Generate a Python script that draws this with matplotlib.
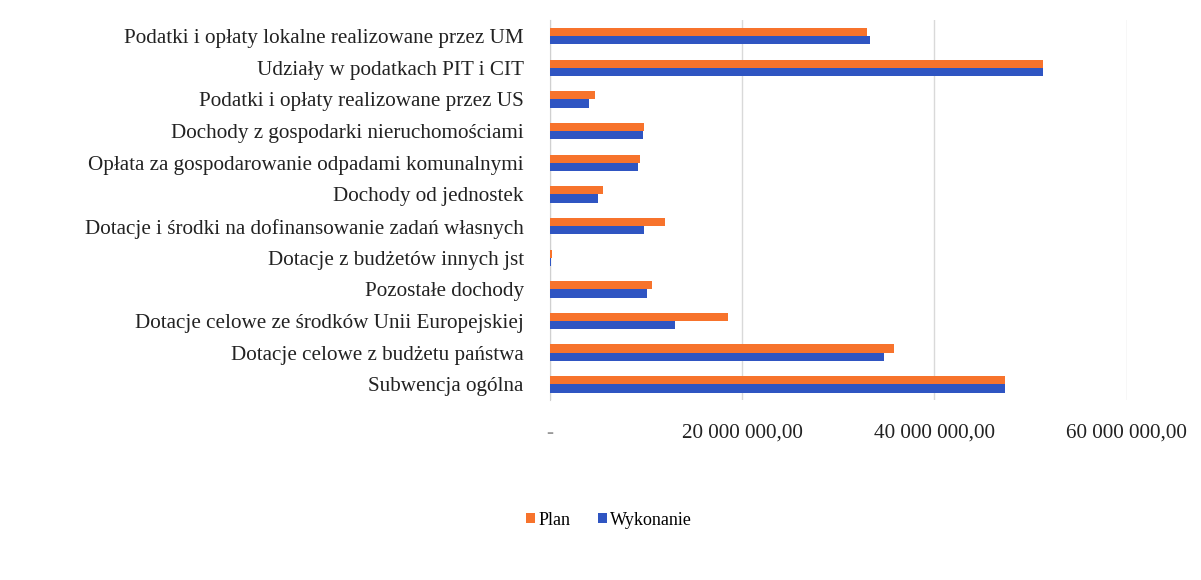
import matplotlib.pyplot as plt
import numpy as np

categories = [
    "Podatki i opłaty lokalne realizowane przez UM",
    "Udziały w podatkach PIT i CIT",
    "Podatki i opłaty realizowane przez US",
    "Dochody z gospodarki nieruchomościami",
    "Opłata za gospodarowanie odpadami komunalnymi",
    "Dochody od jednostek",
    "Dotacje i środki na dofinansowanie zadań własnych",
    "Dotacje z budżetów innych jst",
    "Pozostałe dochody",
    "Dotacje celowe ze środków Unii Europejskiej",
    "Dotacje celowe z budżetu państwa",
    "Subwencja ogólna",
]
plan = [33.0e6, 51.3e6, 4.7e6, 9.8e6, 9.35e6, 5.5e6, 12.0e6, 0.2e6, 10.6e6, 18.5e6, 35.8e6, 47.4e6]
wykonanie = [33.3e6, 51.3e6, 4.1e6, 9.7e6, 9.2e6, 4.95e6, 9.8e6, 0.15e6, 10.1e6, 13.05e6, 34.8e6, 47.4e6]
xticks = [0, 20e6, 40e6, 60e6]
xtick_labels = ["-", "20 000 000,00", "40 000 000,00", "60 000 000,00"]

plt.rcParams['font.family'] = ['Liberation Serif', 'DejaVu Serif']

orange = "#F7732C"
blue = "#2F55C2"

fig = plt.figure(figsize=(12.01, 5.80), dpi=100)
ax = fig.add_axes([0.458, 0.31, 0.480, 0.655])

y = np.arange(len(categories))
h = 0.26
ax.barh(y - h/2, plan, height=h, color=orange, label="Plan", zorder=3)
ax.barh(y + h/2, wykonanie, height=h, color=blue, label="Wykonanie", zorder=3)

ax.set_yticks(y)
ax.set_yticklabels(categories, fontsize=15.2, color="#222222")
ax.set_ylim(len(categories) - 0.5, -0.5)
ax.set_xlim(0, 60e6)
ax.set_xticks(xticks)
ax.set_xticklabels(xtick_labels, fontsize=15.2, color="#222222")
ax.get_xticklabels()[0].set_color("#999999")
ax.get_xticklabels()[0].set_x(-1e6)
ax.tick_params(axis="y", length=0, pad=19)
ax.tick_params(axis="x", length=0, pad=17)
ax.xaxis.grid(True, color="#d9d9d9", linewidth=1, zorder=0)
for s in ["top", "right", "bottom"]:
    ax.spines[s].set_visible(False)
ax.spines["left"].set_color("#d0d0d0")

fig.legend(loc="center", bbox_to_anchor=(0.507, 0.103), ncol=2, frameon=False,
           fontsize=13, handlelength=0.5, handleheight=0.5, handletextpad=0.2,
           columnspacing=1.5)

fig.savefig("out.png", dpi=100, facecolor="white")
